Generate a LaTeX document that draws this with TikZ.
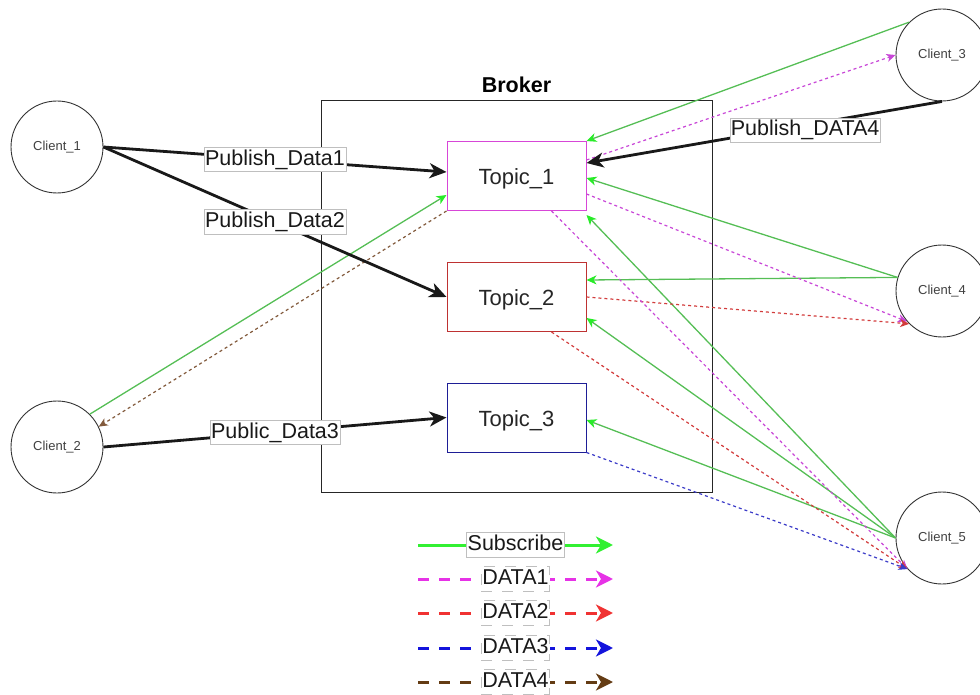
\documentclass[tikz,border=0pt]{standalone}
\usepackage{fontspec}
\setmainfont{Liberation Sans}
\usetikzlibrary{arrows.meta,calc}
\definecolor{gline}{RGB}{85,190,85}
\definecolor{gtip}{RGB}{40,235,40}
\definecolor{dmag}{RGB}{200,70,215}
\definecolor{dred}{RGB}{210,60,60}
\definecolor{dblue}{RGB}{60,60,200}
\definecolor{dbrown}{RGB}{130,90,60}
\definecolor{tmag}{RGB}{215,70,215}
\definecolor{tred}{RGB}{190,50,50}
\definecolor{tblue}{RGB}{30,30,150}
\definecolor{lgreen}{RGB}{50,240,50}
\definecolor{lmag}{RGB}{230,50,230}
\definecolor{lred}{RGB}{240,50,50}
\definecolor{lblue}{RGB}{20,20,220}
\definecolor{lbrown}{RGB}{100,60,20}
\begin{document}
\begin{tikzpicture}[x=1pt,y=-1pt,
  client/.style={circle,draw=black!80,line width=0.9pt,minimum size=92pt,inner sep=0pt,
    font=\fontsize{13}{15}\selectfont,text=black!75},
  topic/.style={rectangle,minimum width=139pt,minimum height=69pt,fill=white,line width=1pt,
    text height=17pt,text depth=0pt,font=\fontsize{22}{26}\selectfont,text=black!85},
  lbl/.style={fill=white,draw=black!25,line width=0.6pt,inner xsep=1pt,inner ysep=2pt,
    text height=16pt,text depth=4.5pt,font=\fontsize{21.5}{25}\selectfont,text=black!90},
  pub/.style={draw=black!90,line width=2.8pt,-{Stealth[length=17pt,width=15pt,inset=5pt]}},
  sub/.style={draw=gline,line width=1.3pt,-{Stealth[length=10pt,width=9pt,inset=3pt,color=gtip]}},
  dat/.style={line width=1.2pt,dash pattern=on 3pt off 3pt,-{Stealth[length=9pt,width=8pt,inset=2.5pt]}},
  leg/.style={line width=3pt,-{Stealth[length=17pt,width=17pt,inset=5pt]}},
  legdash/.style={leg,dash pattern=on 11pt off 10pt}
]
\useasboundingbox (0,0) rectangle (980,695);

% broker
\node[draw=black!85,line width=1pt,minimum width=391pt,minimum height=391pt,inner sep=0pt] (broker) at (516.5,296.5) {};
\node[font=\bfseries\fontsize{21.5}{25}\selectfont] (brokerlbl) at (516.5,85) {Broker};

% topics
\node[topic,draw=tmag] (t1) at (516.5,176) {Topic\_1};
\node[topic,draw=tred] (t2) at (516.5,297) {Topic\_2};
\node[topic,draw=tblue] (t3) at (516.5,417.5) {Topic\_3};

% clients
\node[client] (c1) at (57,147) {Client\_1};
\node[client] (c2) at (57,447) {Client\_2};
\node[client] (c3) at (942,55) {Client\_3};
\node[client] (c4) at (942,291) {Client\_4};
\node[client] (c5) at (942,538) {Client\_5};

% subscribe (green)
\draw[sub] (c2.45) -- ($(t1.west)+(0,19)$);
\draw[sub] (c3.135) -- (t1.north east);
\draw[sub] (c4.163) -- ($(t1.east)+(0,2)$);
\draw[sub] (c4.163) -- ($(t2.east)+(0,-17)$);
\draw[sub] (c5.west) -- ($(t1.south east)+(0,4)$);
\draw[sub] (c5.west) -- ($(t2.east)+(0,21)$);
\draw[sub] (c5.west) -- ($(t3.east)+(0,2.5)$);

% data (dashed)
\draw[dat,draw=dbrown] (t1.south west) -- (c2.26);
\draw[dat,draw=dmag] ($(t1.east)+(0,-16)$) -- (c3.west);
\draw[dat,draw=dmag] ($(t1.east)+(0,18)$) -- (c4.221);
\draw[dat,draw=dred] (t2.east) -- (c4.225);
\draw[dat,draw=dmag] ($(t1.south)+(35,0)$) -- (c5.222);
\draw[dat,draw=dred] ($(t2.south)+(35,0)$) -- (c5.222);
\draw[dat,draw=dblue] (t3.south east) -- (c5.222);

% publish (black)
\draw[pub] (c1.east) -- node[lbl,pos=.5] (lb1) {Publish\_Data1} ($(t1.west)+(0,-4)$);
\draw[pub] (c1.east) -- node[lbl,pos=.5] (lb2) {Publish\_Data2} (t2.west);
\draw[pub] (c2.east) -- node[lbl,pos=.5] (lb3) {Public\_Data3} (t3.west);
\draw[pub] (c3.south) -- node[lbl,pos=.385,yshift=-5pt] (lb4) {Publish\_DATA4} ($(t1.east)+(0,-13)$);

% legend
\coordinate (s1) at (418,545); \coordinate (e1) at (613,545);
\coordinate (s2) at (418,579); \coordinate (e2) at (613,579);
\coordinate (s3) at (418,613); \coordinate (e3) at (613,613);
\coordinate (s4) at (418,648); \coordinate (e4) at (613,648);
\coordinate (s5) at (418,682); \coordinate (e5) at (613,682);
\draw[leg,draw=lgreen] (s1) -- node[lbl] (lg1) {Subscribe} (e1);
\draw[legdash,draw=lmag] (s2) -- node[lbl] (lg2) {DATA1} (e2);
\draw[legdash,draw=lred] (s3) -- node[lbl] (lg3) {DATA2} (e3);
\draw[legdash,draw=lblue] (s4) -- node[lbl] (lg4) {DATA3} (e4);
\draw[legdash,draw=lbrown] (s5) -- node[lbl] (lg5) {DATA4} (e5);
\end{tikzpicture}
\end{document}
